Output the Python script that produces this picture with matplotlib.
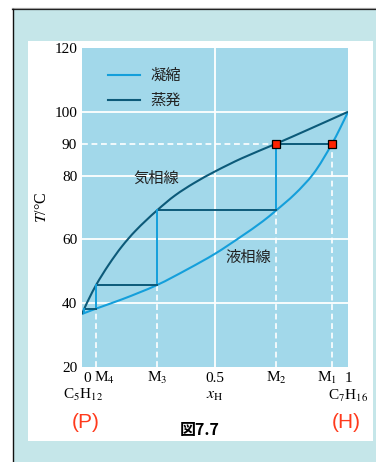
import matplotlib
matplotlib.use("Agg")
import matplotlib.pyplot as plt
import matplotlib.transforms as mtransforms
from matplotlib.patches import Rectangle, PathPatch
from matplotlib.path import Path

plt.rcParams["mathtext.fontset"] = "stix"

# Dew (vapour) curve of pentane / heptane, T in deg C against x_H
vapor_x = [0.0, 0.0087, 0.025, 0.053, 0.10, 0.15, 0.20, 0.282, 0.35, 0.42, 0.50, 0.60, 0.73, 0.85, 1.0]
vapor_T = [36.6, 38.3, 41.2, 45.7, 52.0, 57.8, 62.6, 69.1, 73.8, 77.6, 81.3, 85.4, 90.0, 94.4, 100.0]

# Bubble (liquid) curve
liquid_x = [0.0, 0.0087, 0.053, 0.15, 0.282, 0.40, 0.50, 0.60, 0.68, 0.73, 0.80, 0.87, 0.94, 0.97, 1.0]
liquid_T = [36.6, 36.9, 38.3, 41.2, 45.7, 50.8, 55.5, 61.0, 65.7, 69.1, 74.2, 80.6, 90.0, 94.8, 100.0]

# Stage-wise distillation: liquid compositions M1..M4 and the last vapour point
stage_x = [0.94, 0.73, 0.282, 0.053, 0.0087]
stage_T = [90.0, 69.1, 45.7, 38.3, 36.9]
stage_labels = ["M$_1$", "M$_2$", "M$_3$", "M$_4$"]

y_ticks = [20, 40, 60, 80, 90, 100, 120]
grid_T = [40, 60, 80, 100]

C_LIGHT = "#149fdb"
C_DARK = "#0c5a79"
C_PLOT_BG = "#a2d8ea"
C_FRAME_BG = "#c5e6e9"
C_RED = "#ff3a1c"

SERIF = "Liberation Serif"
JP = ["Noto Sans CJK JP", "DejaVu Sans"]


def smooth_path(xs, ys):
    """Cubic Bezier path through the given points with monotone tangents."""
    n = len(xs)
    d = [(ys[i + 1] - ys[i]) / (xs[i + 1] - xs[i]) for i in range(n - 1)]
    m = [d[0]]
    for i in range(1, n - 1):
        a, b = d[i - 1], d[i]
        m.append(0.0 if a * b <= 0 else 2 * a * b / (a + b))
    m.append(d[-1])
    verts = [(xs[0], ys[0])]
    codes = [Path.MOVETO]
    for i in range(n - 1):
        h = (xs[i + 1] - xs[i]) / 3
        verts += [(xs[i] + h, ys[i] + m[i] * h),
                  (xs[i + 1] - h, ys[i + 1] - m[i + 1] * h),
                  (xs[i + 1], ys[i + 1])]
        codes += [Path.CURVE4] * 3
    return Path(verts, codes)


W, H = 376, 462
fig = plt.figure(figsize=(W / 100, H / 100), dpi=100)
fig.patch.set_facecolor("white")

# page frame drawn in pixel coordinates
bg = fig.add_axes([0, 0, 1, 1], zorder=0)
bg.set_xlim(0, W)
bg.set_ylim(H, 0)
bg.axis("off")
bg.add_patch(Rectangle((12.5, 9), W - 12.5, H - 9, facecolor=C_FRAME_BG, edgecolor="none"))
bg.add_patch(Rectangle((28, 41), 345, 400, facecolor="white", edgecolor="none"))
bg.plot([12, W], [7.6, 7.6], color="#b0b0b0", lw=0.9)
bg.plot([12, W], [9.0, 9.0], color="#222222", lw=0.9)
bg.plot([12.6, 12.6], [9, H], color="#111111", lw=1.0)

left, top, right, bottom = 82, 48, 348, 367
ax = fig.add_axes([left / W, 1 - bottom / H, (right - left) / W, (bottom - top) / H], zorder=1)
ax.set_facecolor(C_PLOT_BG)
ax.set_xlim(0, 1)
ax.set_ylim(20, 120)
for s in ax.spines.values():
    s.set_visible(False)

# grid
for t in grid_T:
    ax.axhline(t, color="white", lw=1.3, zorder=1)
ax.axvline(0.5, color="white", lw=1.3, zorder=1)

# dashed guides
dash = dict(color="white", lw=1.2, ls=(0, (3.5, 2.2)), zorder=2)
for xm, tm in zip(stage_x[:4], stage_T[:4]):
    ax.plot([xm, xm], [20, tm], **dash)
ax.plot([0, stage_x[1]], [stage_T[0], stage_T[0]], **dash)

# phase curves
ax.add_patch(PathPatch(smooth_path(liquid_x, liquid_T), fill=False, edgecolor=C_LIGHT, lw=1.5, zorder=3))
ax.add_patch(PathPatch(smooth_path(vapor_x, vapor_T), fill=False, edgecolor=C_DARK, lw=1.5, zorder=3))

# staircase: evaporation (horizontal) and condensation (vertical)
for i in range(4):
    ax.plot([stage_x[i], stage_x[i + 1]], [stage_T[i], stage_T[i]], color=C_DARK, lw=1.4, zorder=4)
    ax.plot([stage_x[i + 1], stage_x[i + 1]], [stage_T[i + 1], stage_T[i]], color=C_LIGHT, lw=1.4, zorder=4)

ax.plot(stage_x[:2], stage_T[:1] * 2, ls="none", marker="s", ms=6.3,
        mfc="#ff2200", mec="black", mew=0.9, zorder=5)

# y axis
ax.set_yticks(y_ticks)
ax.set_yticklabels([str(v) for v in y_ticks], fontfamily=SERIF, fontsize=11)
ax.tick_params(axis="y", length=0, pad=3.5)
ax.set_xticks([])
ax.set_ylabel("$T$/°C", fontfamily=SERIF, fontsize=11.5, labelpad=3)


def xlabel_at(x, text, dx_px, dy_px, **kw):
    tr = mtransforms.blended_transform_factory(ax.transData, ax.transAxes)
    off = mtransforms.ScaledTranslation(dx_px / 100, dy_px / 100, fig.dpi_scale_trans)
    ax.text(x, 0, text, transform=tr + off, ha="center", va="center", clip_on=False, **kw)


tick_kw = dict(fontfamily=SERIF, fontsize=11)
xlabel_at(0.0, "0", 5, -11, **tick_kw)
xlabel_at(0.5, "0.5", 0, -11, **tick_kw)
xlabel_at(1.0, "1", 0, -11, **tick_kw)
shifts = [-5, 0, 0, 8]
for xm, lab, sh in zip(stage_x[:4], stage_labels, shifts):
    xlabel_at(xm, lab, sh, -11, **tick_kw)

xlabel_at(0.0, "C$_5$H$_{12}$", 1, -28, **tick_kw)
xlabel_at(1.0, "C$_7$H$_{16}$", 0, -29, **tick_kw)
xlabel_at(0.5, r"$\mathbf{\mathit{x}}_{\mathrm{H}}$", 0, -28, fontsize=11.5)

xlabel_at(0.0, "(P)", 4, -56, fontfamily="Liberation Sans", fontsize=15, color=C_RED)
xlabel_at(1.0, "(H)", -2, -56, fontfamily="Liberation Sans", fontsize=15, color=C_RED)
xlabel_at(0.5, "図7.7", -15, -63, fontfamily=JP, fontsize=11.5, fontweight="bold")

# legend
leg_y = [75, 100]
leg_c = [C_LIGHT, C_DARK]
leg_t = ["凝縮", "蒸発"]
lg = fig.add_axes([0, 0, 1, 1], zorder=3)
lg.set_xlim(0, W)
lg.set_ylim(H, 0)
lg.axis("off")
for yy, cc, tt in zip(leg_y, leg_c, leg_t):
    lg.plot([108, 140], [yy, yy], color=cc, lw=1.5)
    lg.text(150, yy, tt, fontfamily=JP, fontsize=11, ha="left", va="center", color="#222222")

# region labels
ax.text(0.28, 79.0, "気相線", fontfamily=JP, fontsize=11, ha="center", va="center", color="#222222", zorder=6)
ax.text(0.625, 54.5, "液相線", fontfamily=JP, fontsize=11, ha="center", va="center", color="#222222", zorder=6)

fig.savefig("out.png", dpi=100, facecolor="white")
